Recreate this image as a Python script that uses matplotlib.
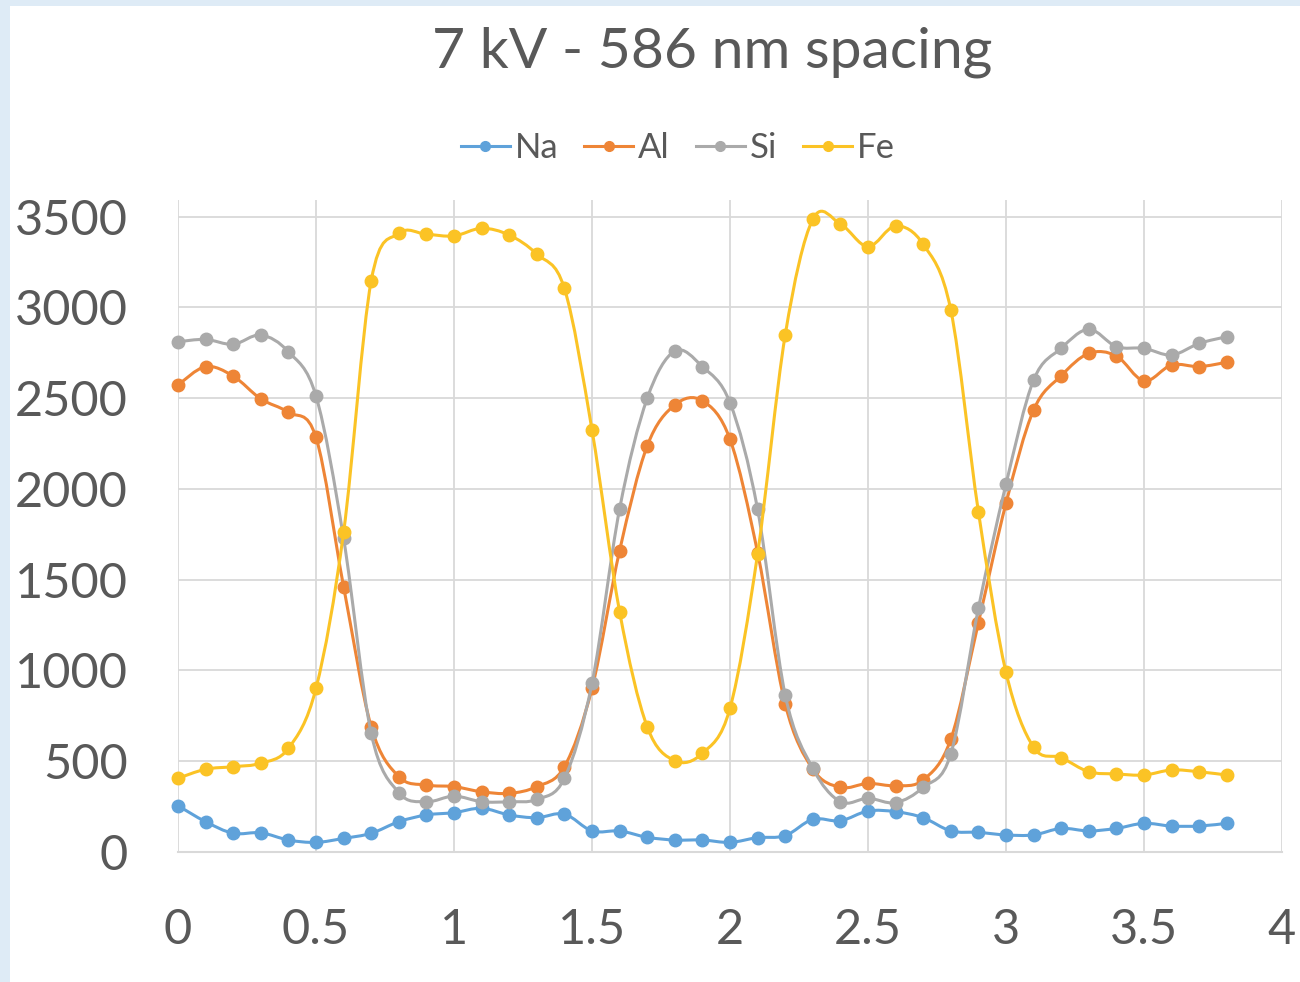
import matplotlib.pyplot as plt
from matplotlib.path import Path
from matplotlib.patches import PathPatch, Rectangle
from matplotlib.lines import Line2D

# distance (um) and counts per element
x = [0.0, 0.1, 0.2, 0.3, 0.4, 0.5, 0.6, 0.7, 0.8, 0.9,
     1.0, 1.1, 1.2, 1.3, 1.4, 1.5, 1.6, 1.7, 1.8, 1.9,
     2.0, 2.1, 2.2, 2.3, 2.4, 2.5, 2.6, 2.7, 2.8, 2.9,
     3.0, 3.1, 3.2, 3.3, 3.4, 3.5, 3.6, 3.7, 3.8]

na = [255, 167, 103, 106, 66, 53, 75, 103, 167, 204,
      217, 241, 204, 189, 209, 116, 116, 81, 66, 66,
      53, 79, 90, 180, 172, 226, 222, 189, 116, 108,
      94, 94, 130, 116, 130, 158, 143, 143, 158]

al = [2573, 2674, 2622, 2496, 2422, 2284, 1462, 690, 415, 369,
      360, 332, 323, 360, 470, 902, 1660, 2237, 2463, 2486,
      2274, 1650, 815, 456, 356, 378, 365, 397, 621, 1263,
      1921, 2435, 2624, 2747, 2733, 2595, 2683, 2674, 2698]

si = [2811, 2824, 2797, 2848, 2756, 2512, 1728, 654, 327, 277,
      308, 277, 277, 290, 406, 929, 1890, 2499, 2760, 2674,
      2475, 1888, 865, 461, 277, 296, 272, 356, 540, 1343,
      2026, 2600, 2775, 2880, 2784, 2775, 2738, 2802, 2839]

fe = [406, 456, 470, 489, 571, 902, 1761, 3147, 3408, 3403,
      3394, 3436, 3399, 3294, 3105, 2325, 1324, 690, 503, 544,
      792, 1642, 2848, 3486, 3460, 3335, 3449, 3348, 2986, 1875,
      990, 577, 520, 442, 430, 424, 452, 442, 424]

series = [("Na", na, "#5FA2DA"), ("Al", al, "#EE8536"),
          ("Si", si, "#AAAAAA"), ("Fe", fe, "#FBC325")]

FONT = "Lato"
TXT = "#595959"


def smooth_path(xs, ys):
    # Excel-style smoothed line: cubic bezier through every point
    verts = [(xs[0], ys[0])]
    codes = [Path.MOVETO]
    n = len(xs)
    for i in range(n - 1):
        x0, y0 = (xs[i - 1], ys[i - 1]) if i > 0 else (xs[i], ys[i])
        x1, y1 = xs[i], ys[i]
        x2, y2 = xs[i + 1], ys[i + 1]
        x3, y3 = (xs[i + 2], ys[i + 2]) if i + 2 < n else (x2, y2)
        c1 = (x1 + (x2 - x0) / 6, y1 + (y2 - y0) / 6)
        c2 = (x2 - (x3 - x1) / 6, y2 - (y3 - y1) / 6)
        verts += [c1, c2, (x2, y2)]
        codes += [Path.CURVE4] * 3
    return Path(verts, codes)


fig = plt.figure(figsize=(13, 9.82), dpi=100, facecolor="#DEEBF6")
fig.patches.append(Rectangle((10 / 1300, 0), 1, 1 - 6 / 982, transform=fig.transFigure,
                             facecolor="white", edgecolor="none", zorder=-10))

ax = fig.add_axes([178 / 1300, 1 - 852 / 982, 1104 / 1300, 652 / 982])
ax.set_facecolor("white")

handles = []
for i, (name, vals, col) in enumerate(series):
    ax.add_patch(PathPatch(smooth_path(x, vals), facecolor="none", edgecolor=col,
                           lw=2.2, zorder=3 + i, capstyle="round", joinstyle="round"))
    ax.plot(x, vals, "o", color=col, ms=9, zorder=3 + i, clip_on=False)
    handles.append(Line2D([0], [0], color=col, lw=2.2, marker="o", ms=7, label=name))

ax.set_xlim(0, 4)
ax.set_ylim(0, 3592)
ax.set_xticks([0, 0.5, 1, 1.5, 2, 2.5, 3, 3.5, 4])
ax.set_xticklabels(["0", "0.5", "1", "1.5", "2", "2.5", "3", "3.5", "4"])
ax.set_yticks(range(0, 3501, 500))
ax.grid(True, color="#D9D9D9", lw=1.3, zorder=0)
ax.set_axisbelow(True)
for s in ["top", "right", "left"]:
    ax.spines[s].set_visible(False)
ax.spines["bottom"].set_color("#D9D9D9")
ax.spines["bottom"].set_linewidth(1.5)
ax.tick_params(length=0, labelsize=35, labelcolor=TXT)
ax.tick_params(axis="x", pad=40)
ax.tick_params(axis="y", pad=36)
for lab in ax.get_xticklabels() + ax.get_yticklabels():
    lab.set_family(FONT)

fig.text(712 / 1300, 1 - 52 / 982, "7 kV - 586 nm spacing", ha="center", va="center",
         fontsize=41, color=TXT, family=FONT)

fig.legend(handles=handles, loc="center", bbox_to_anchor=(678 / 1300, 1 - 148 / 982),
           ncol=4, frameon=False, handlelength=1.4, handletextpad=0.15, columnspacing=0.75,
           prop={"family": FONT, "size": 25}, labelcolor=TXT)

fig.savefig("out.png", dpi=100, facecolor=fig.get_facecolor())
